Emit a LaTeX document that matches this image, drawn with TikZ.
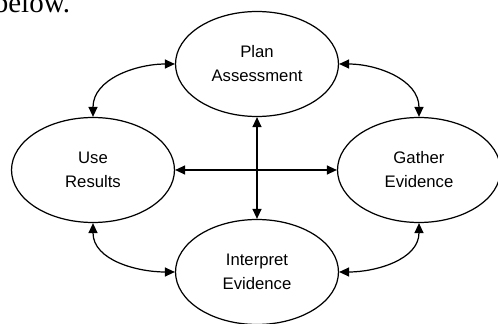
\documentclass[tikz,border=0pt]{standalone}
\usepackage{fontspec}
\usetikzlibrary{shapes.geometric,arrows.meta}
\newfontfamily\stagefont{Liberation Sans}
\newfontfamily\bodyfont{Liberation Serif}
\begin{document}
\begin{tikzpicture}[x=0.02cm,y=-0.02cm,
    stage/.style={ellipse,draw,line width=0.7pt,minimum width=3.26cm,minimum height=2.1cm,
        inner sep=0pt,align=center,font=\stagefont\fontsize{9.5}{13.7}\selectfont},
    link/.style={{Triangle[length=2mm,width=1.8mm]}-{Triangle[length=2mm,width=1.8mm]},line width=0.7pt}]

\useasboundingbox (0,0) rectangle (498,324);

    % Text cut off above the figure
    \node[anchor=base west,inner sep=0pt,font=\bodyfont\fontsize{16.5}{18}\selectfont] (below) at (-6.5,13) {below.};

    % The four stages
    \foreach \name/\x/\y/\txt in {plan/257/64/{Plan\\Assessment},
                                  use/93/170/{Use\\Results},
                                  gather/419/170/{Gather\\Evidence},
                                  interpret/257/272/{Interpret\\Evidence}} {
        \node[stage] (\name) at (\x,\y) {\txt};
    }

    % Cross in the middle
    \draw[link] (plan.south) -- (interpret.north);
    \draw[link] (use.east) -- (gather.west);

    % Curved links round the cycle
    \draw[link] (use.north) to[out=90,in=180] (plan.west);
    \draw[link] (plan.east) to[out=0,in=90] (gather.north);
    \draw[link] (use.south) to[out=-90,in=180] (interpret.west);
    \draw[link] (interpret.east) to[out=0,in=-90] (gather.south);

\end{tikzpicture}
\end{document}
